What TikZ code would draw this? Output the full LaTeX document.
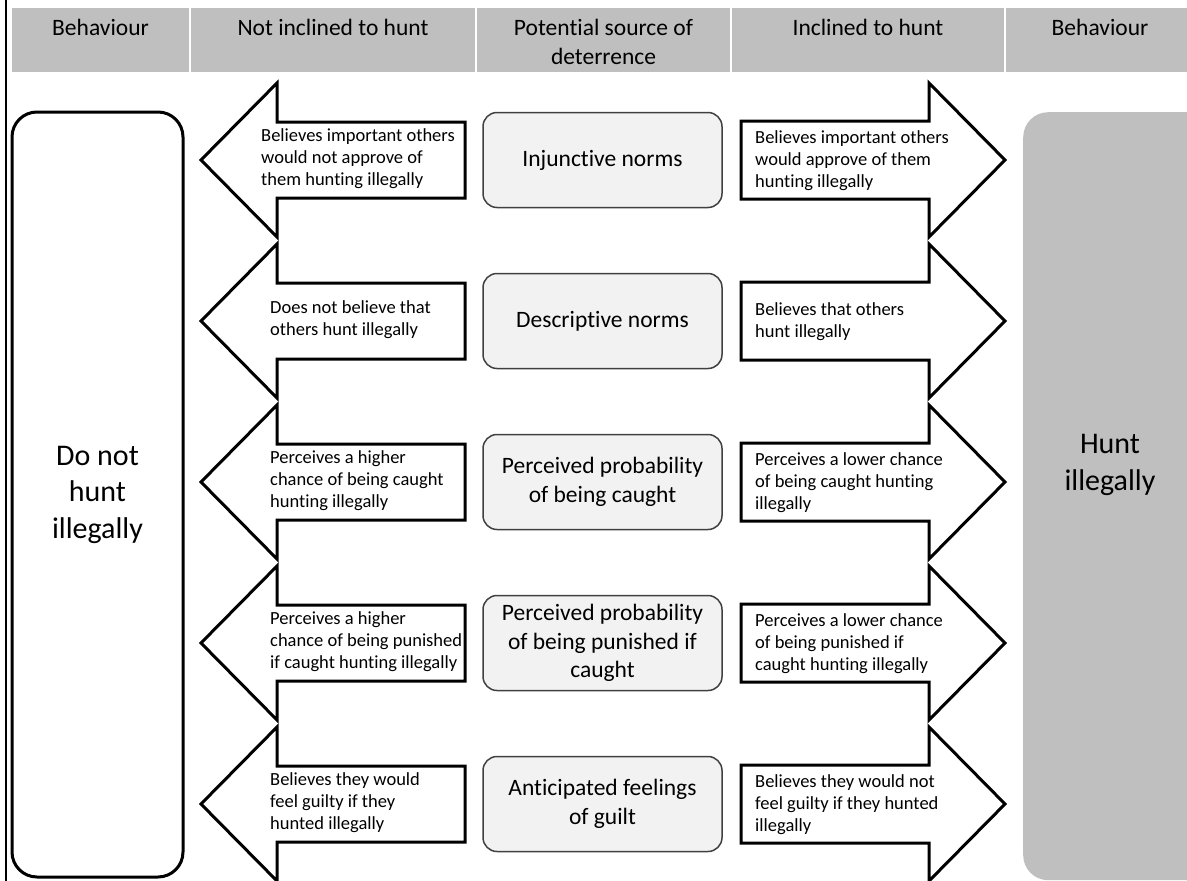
\documentclass[tikz,border=0pt]{standalone}
\usepackage{fontspec}
\setmainfont{Carlito}[Ligatures=NoCommon]
\definecolor{gris}{HTML}{BFBFBF}
\definecolor{grisclaro}{HTML}{F2F2F2}
\definecolor{borde}{HTML}{404040}
\begin{document}
\begin{tikzpicture}[x=1pt,y=-1pt,line join=miter,
  flecha/.style={draw=black,fill=white,line width=3pt},
  texto flecha/.style={font=\fontsize{18.5}{22}\selectfont,align=left,anchor=west,inner sep=0pt},
  texto medio/.style={font=\fontsize{23.5}{28.5}\selectfont,align=center},
  texto grande/.style={font=\fontsize{30}{36.5}\selectfont,align=center},
  caja/.style={draw=borde,fill=grisclaro,line width=1.5pt,rounded corners=14pt,minimum width=239pt,minimum height=95pt,texto medio}]
  \useasboundingbox (0,0) rectangle (1187,881);
  \draw[line width=1.5pt] (6,0) -- (6,881);
  \foreach \a/\b/\m/\nom/\txt in {12/189/100.5/col1/Behaviour,191/475/333/col2/Not inclined to hunt,477/730/603.5/col3/{Potential source of\\deterrence},732/1004/868/col4/Inclined to hunt,1006/1187/1100/col5/Behaviour}{
    \fill[gris] (\a,8) rectangle (\b,72);
    \node[texto medio,anchor=north,inner sep=0pt] (\nom) at (\m,19) {\txt};
  }
  \node[draw,line width=3pt,rounded corners=25pt,minimum width=171pt,minimum height=765pt,texto grande] (nocaza) at (97.5,494.5) {Do not\\hunt\\illegally};
  \node[fill=gris,rounded corners=25pt,minimum width=190pt,minimum height=768pt,anchor=north west] (caza) at (1023,112) {};
  \node[texto grande] (cazatxt) at (1110,465) {Hunt\\illegally};
  \foreach \i/\xi/\izq/\centro/\der in {0/261/{Believes important others\\would not approve of\\them hunting illegally}/{Injunctive norms}/{Believes important others\\would approve of them\\hunting illegally},
    1/270/{Does not believe that\\others hunt illegally}/{Descriptive norms}/{Believes that others\\hunt illegally},
    2/270/{Perceives a higher\\chance of being caught\\hunting illegally}/{Perceived probability\\of being caught}/{Perceives a lower chance\\of being caught hunting\\illegally},
    3/270/{Perceives a higher\\chance of being punished\\if caught hunting illegally}/{Perceived probability\\of being punished if\\caught}/{Perceives a lower chance\\of being punished if\\caught hunting illegally},
    4/270/{Believes they would\\feel guilty if they\\hunted illegally}/{Anticipated feelings\\of guilt}/{Believes they would not\\feel guilty if they hunted\\illegally}}{
    \pgfmathsetmacro{\yc}{160+161*\i}
    \draw[flecha] (465,\yc-38) -- (277,\yc-38) -- (277,\yc-77) -- (201,\yc) -- (277,\yc+77) -- (277,\yc+38) -- (465,\yc+38) -- cycle;
    \draw[flecha] (741,\yc-39) -- (929,\yc-39) -- (929,\yc-77) -- (1005,\yc) -- (929,\yc+77) -- (929,\yc+39) -- (741,\yc+39) -- cycle;
    \node[texto flecha] (izq\i) at (\xi,\yc-1) {\izq};
    \node[caja] (norma\i) at (602.5,\yc) {\centro};
    \node[texto flecha] (der\i) at (755,\yc+1) {\der};
  }
\end{tikzpicture}
\end{document}
